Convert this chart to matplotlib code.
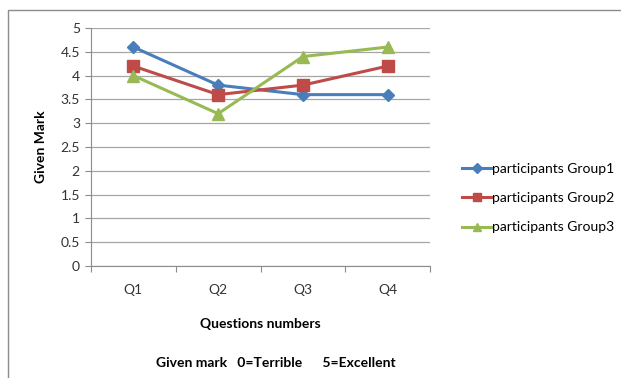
"""
Given marks per question for three participant groups
"""
import matplotlib
matplotlib.use("Agg")
import matplotlib.pyplot as plt
from matplotlib.patches import Rectangle

questions = ["Q1", "Q2", "Q3", "Q4"]
group1 = [4.6, 3.8, 3.6, 3.6]
group2 = [4.2, 3.6, 3.8, 4.2]
group3 = [4.0, 3.2, 4.4, 4.6]
series_names = ["participants Group1", "participants Group2", "participants Group3"]
y_ticks = [0, 0.5, 1, 1.5, 2, 2.5, 3, 3.5, 4, 4.5, 5]

plt.rcParams["font.family"] = ["Lato", "DejaVu Sans"]

fig = plt.figure(figsize=(6.21, 3.78), dpi=100)
fig.patch.set_facecolor("white")

# outer chart frame
fig.patches.append(Rectangle((8 / 621, -0.05), 1.2, 1 - 10 / 378 + 0.05,
                             transform=fig.transFigure, fill=False,
                             edgecolor="#8c8c8c", linewidth=1.0))

ax = fig.add_axes([91 / 621, 1 - 266 / 378, (430 - 91) / 621, (266 - 28) / 378])
x = list(range(len(questions)))

styles = [("#4A7EBB", "D", 6), ("#BE4B48", "s", 8), ("#98B954", "^", 8)]
for vals, name, (color, marker, ms) in zip([group1, group2, group3], series_names, styles):
    ax.plot(x, vals, color=color, marker=marker, markersize=ms, linewidth=2.2,
            label=name, markeredgecolor=color)

ax.set_xlim(-0.5, len(questions) - 0.5)
ax.set_ylim(0, 5)
ax.set_yticks(y_ticks)
ax.set_yticklabels([f"{t:g}" for t in y_ticks], fontsize=10, color="#333333")
ax.yaxis.grid(True, color="#a6a6a6", linewidth=0.9)
ax.set_axisbelow(True)

# category labels between boundary ticks
ax.set_xticks([i - 0.5 for i in range(len(questions) + 1)])
ax.set_xticklabels([])
ax.set_xticks(x, minor=True)
ax.set_xticklabels(questions, minor=True, fontsize=10, color="#333333")
ax.tick_params(axis="x", which="minor", length=0, pad=13)
ax.tick_params(axis="x", which="major", length=4, color="#8c8c8c")
ax.tick_params(axis="y", length=4, color="#8c8c8c", pad=4)

for side in ["top", "right"]:
    ax.spines[side].set_visible(False)
for side in ["left", "bottom"]:
    ax.spines[side].set_color("#8c8c8c")

ax.set_ylabel("Given Mark", fontsize=10, fontweight="bold", labelpad=10)
ax.set_xlabel("Questions numbers", fontsize=10, fontweight="bold", labelpad=16)

fig.text(276 / 621, 1 - 363 / 378, "Given mark   0=Terrible      5=Excellent",
         ha="center", va="center", fontsize=10, fontweight="bold")

ax.legend(loc="center left", bbox_to_anchor=(455 / 621, 1 - 198 / 378),
          bbox_transform=fig.transFigure, frameon=False, fontsize=10,
          handlelength=2.1, handletextpad=0.1, labelspacing=1.25, borderpad=0,
          markerscale=0.8)

fig.savefig("out.png", dpi=100)
plt.close(fig)
